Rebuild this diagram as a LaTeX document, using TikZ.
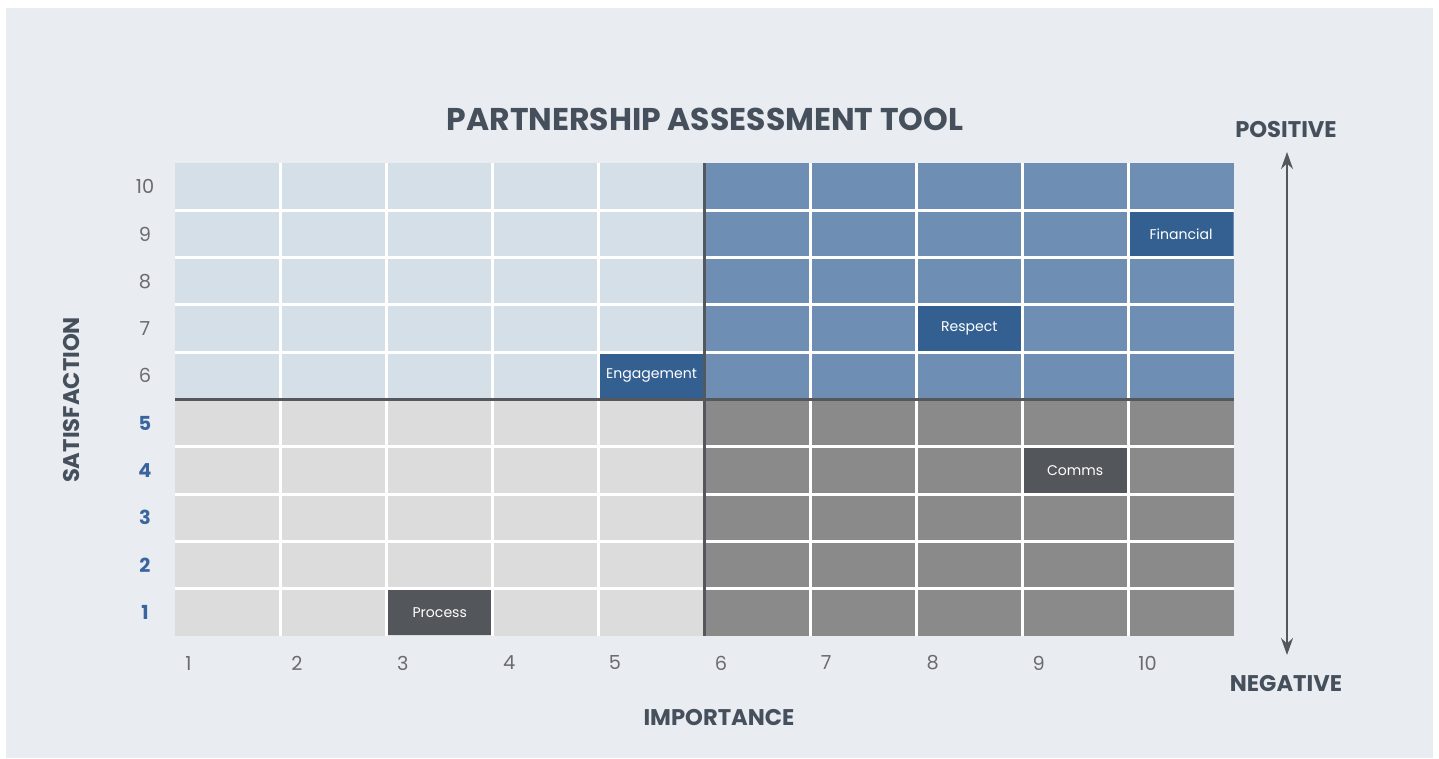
\documentclass[tikz,border=0pt]{standalone}
\usepackage{fontspec}
\setmainfont{Poppins}
\usetikzlibrary{arrows.meta}
\definecolor{pagebg}{HTML}{E9ECF1}
\definecolor{headgrey}{HTML}{45505C}
\definecolor{numgrey}{HTML}{6A6B6E}
\definecolor{numblue}{HTML}{3A64A0}
\definecolor{lightblue}{HTML}{D5DFE8}
\definecolor{midblue}{HTML}{6E8FB3}
\definecolor{darkblue}{HTML}{336091}
\definecolor{lightgrey}{HTML}{DCDCDC}
\definecolor{midgrey}{HTML}{8A8A8B}
\definecolor{darkgrey}{HTML}{53565B}
\definecolor{rulegrey}{HTML}{54575C}

\begin{document}
\begin{tikzpicture}[x=0.02cm,y=-0.02cm]

%
% Styles
%
\tikzstyle{heading} = [font=\bfseries\fontsize{12.9}{15}\selectfont,text=headgrey,inner sep=0pt]
\tikzstyle{ticknum} = [font=\fontsize{11}{13}\selectfont,text=numgrey,inner sep=0pt]
\tikzstyle{bluenum} = [font=\bfseries\fontsize{11}{13}\selectfont,text=numblue,inner sep=0pt]
\tikzstyle{cellmark} = [rectangle,minimum width=102.9*0.02cm,minimum height=44.3*0.02cm,
  inner sep=0pt,text=white,font=\fontsize{8}{10}\selectfont]
\tikzstyle{gridline} = [white,line width=3*0.02cm]
\tikzstyle{divider} = [rulegrey,line width=3*0.02cm]

% page
\fill[white] (0,0) rectangle (1439,758);
\fill[pagebg] (6,8) rectangle (1433,758);

% quadrants
\fill[lightblue] (175,163) rectangle (704.5,399.5);
\fill[midblue] (704.5,163) rectangle (1234,399.5);
\fill[lightgrey] (175,399.5) rectangle (704.5,636);
\fill[midgrey] (704.5,399.5) rectangle (1234,636);

% grid
\foreach \i in {1,...,9}
  \draw[gridline] (175+\i*105.9,163) -- (175+\i*105.9,636);
\foreach \j in {1,...,9}
  \draw[gridline] (175,163+\j*47.3) -- (1234,163+\j*47.3);

% marked cells
\node[cellmark,fill=darkblue] (financial) at (175+9.5*105.9,163+1.5*47.3) {Financial};
\node[cellmark,fill=darkblue] (respect) at (175+7.5*105.9,163+3.5*47.3) {Respect};
\node[cellmark,fill=darkblue] (engagement) at (175+4.5*105.9,163+4.5*47.3) {Engagement};
\node[cellmark,fill=darkgrey] (comms) at (175+8.5*105.9,163+6.5*47.3) {Comms};
\node[cellmark,fill=darkgrey] (process) at (175+2.5*105.9,163+9.5*47.3) {Process};

% dividers
\draw[divider] (704.5,163) -- (704.5,636);
\draw[divider] (175,399.5) -- (1234,399.5);

% axis numbers
\foreach \n in {6,...,10}
  \node[ticknum] (y\n) at (145,163+10.5*47.3-\n*47.3) {\n};
\foreach \n in {1,...,5}
  \node[bluenum] (y\n) at (145,163+10.5*47.3-\n*47.3) {\n};
\foreach \n in {1,...,10}
  \node[ticknum,anchor=west] (x\n) at (175+\n*105.9-105.9+10,663) {\n};

% headings
\node[heading,font=\bfseries\fontsize{17.9}{20}\selectfont] (title) at (705,119) {PARTNERSHIP ASSESSMENT TOOL};
\node[heading] (importance) at (719,717) {IMPORTANCE};
\node[heading,rotate=90] (satisfaction) at (72,400) {SATISFACTION};
\node[heading] (positive) at (1286,130) {POSITIVE};
\node[heading] (negative) at (1286,683) {NEGATIVE};

% scale arrow
\coordinate (top) at (1287,152);
\coordinate (bottom) at (1287,655);
\draw[rulegrey,line width=2*0.02cm,
  {Stealth[length=17*0.02cm,width=12*0.02cm]}-{Stealth[length=17*0.02cm,width=12*0.02cm]}]
  (top) -- (bottom);

\end{tikzpicture}
\end{document}
